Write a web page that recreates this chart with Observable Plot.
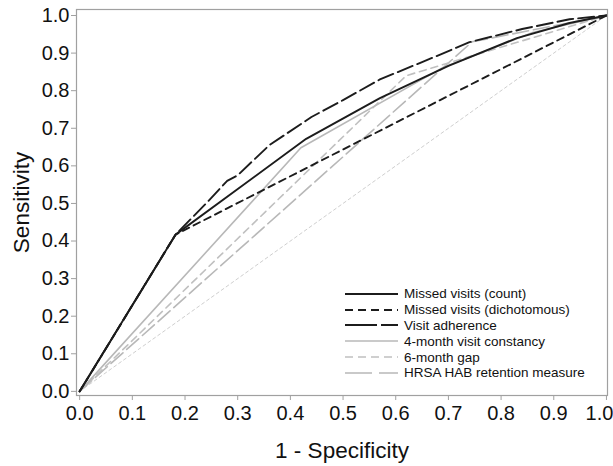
<!DOCTYPE html>
<html>
<head>
<meta charset="utf-8">
<script src="https://cdn.jsdelivr.net/npm/d3@7"></script>
<script src="https://cdn.jsdelivr.net/npm/@observablehq/plot@0.6"></script>
<style>
  html, body { margin: 0; padding: 0; background: #fff; }
  #wrap { position: relative; width: 613px; height: 466px; font-family: "Liberation Sans", Arial, sans-serif; }
  #legend { position: absolute; left: 345px; top: 286px; font-size: 13.5px; color: #111; }
  #legend .row { display: flex; align-items: center; height: 15.8px; }
  #legend svg { display: block; margin-right: 6px; }
</style>
</head>
<body>
<div id="wrap"></div>
<script>
// ---- data ----
const seriesNames = [
  "Missed visits (count)",
  "Missed visits (dichotomous)",
  "Visit adherence",
  "4-month visit constancy",
  "6-month gap",
  "HRSA HAB retention measure"
];
const fprCount = [0, 0.182, 0.43, 0.57, 0.70, 0.83, 0.93, 1];
const tprCount = [0, 0.417, 0.672, 0.78, 0.866, 0.94, 0.98, 1];
const fprDichot = [0, 0.182, 1];
const tprDichot = [0, 0.417, 1];
const fprAdherence = [0, 0.182, 0.24, 0.28, 0.30, 0.36, 0.44, 0.50, 0.57, 0.65, 0.74, 0.84, 0.93, 1];
const tprAdherence = [0, 0.417, 0.50, 0.56, 0.575, 0.655, 0.73, 0.775, 0.83, 0.876, 0.929, 0.964, 0.99, 1];
const fprConstancy = [0, 0.42, 0.69, 0.86, 1];
const tprConstancy = [0, 0.648, 0.862, 0.955, 1];
const fprGap = [0, 0.62, 1];
const tprGap = [0, 0.84, 1];
const fprHrsa = [0, 0.745, 1];
const tprHrsa = [0, 0.93, 1];
const fprRef = [0, 1];
const tprRef = [0, 1];
const tickValues = [0, 0.1, 0.2, 0.3, 0.4, 0.5, 0.6, 0.7, 0.8, 0.9, 1.0];

// ---- styles ----
const styles = [
  {stroke: "#1c1c1c", width: 1.9, dash: null, legendDash: null},
  {stroke: "#1c1c1c", width: 1.9, dash: "7,5", legendDash: "8,5"},
  {stroke: "#1c1c1c", width: 1.9, dash: "16,5", legendDash: "32,4"},
  {stroke: "#b8b8b8", width: 1.6, dash: null, legendDash: null},
  {stroke: "#c0c0c0", width: 1.6, dash: "7,5", legendDash: "8,5"},
  {stroke: "#b8b8b8", width: 1.6, dash: "16,5", legendDash: "27,7"}
];

const pairs = [
  [fprCount, tprCount], [fprDichot, tprDichot], [fprAdherence, tprAdherence],
  [fprConstancy, tprConstancy], [fprGap, tprGap], [fprHrsa, tprHrsa]
];
const toRows = (xs, ys) => xs.map((x, i) => ({x, y: ys[i]}));

const lineMarks = pairs.map(([xs, ys], i) => Plot.line(toRows(xs, ys), {
  x: "x", y: "y",
  stroke: styles[i].stroke,
  strokeWidth: styles[i].width,
  strokeDasharray: styles[i].dash ?? undefined,
  strokeLinejoin: "round"
}));

const font = "Liberation Sans, Arial, sans-serif";
const fmt = d3.format(".1f");
const lastTick = tickValues[tickValues.length - 1];
const chart = Plot.plot({
  width: 613,
  height: 466,
  marginLeft: 76,
  marginRight: 6,
  marginTop: 9,
  marginBottom: 71,
  style: {fontFamily: font, background: "#fff", color: "#111"},
  x: {domain: [-0.006, 1.002]},
  y: {domain: [-0.011, 1.016]},
  marks: [
    Plot.line(toRows(fprRef, tprRef), {x: "x", y: "y", stroke: "#cfcfcf", strokeWidth: 1, strokeDasharray: "3,3"}),
    ...lineMarks.slice(3).reverse(),
    ...lineMarks.slice(0, 3).reverse(),
    Plot.frame({stroke: "#a0a0a0", strokeWidth: 1.2}),
    Plot.axisX({ticks: tickValues, tickFormat: d => d === lastTick ? "" : fmt(d), tickSize: 5, tickPadding: 5,
      stroke: "#a0a0a0", fontSize: 20, fill: "#111", label: null}),
    Plot.axisX({ticks: [lastTick], tickFormat: fmt, tickSize: 0, tickPadding: 10,
      fontSize: 20, fill: "#111", label: null, dx: -7}),
    Plot.axisY({ticks: tickValues, tickFormat: fmt, tickSize: 5, tickPadding: 2,
      stroke: "#a0a0a0", fontSize: 20, fill: "#111", label: null}),
    Plot.text(["1 - Specificity"], {frameAnchor: "bottom", dy: 62, fontSize: 22.5, fill: "#111"}),
    Plot.text(["Sensitivity"], {frameAnchor: "left", dx: -55, rotate: -90, textAnchor: "middle", fontSize: 22.5, fill: "#111"})
  ]
});

const wrap = document.getElementById("wrap");
wrap.appendChild(chart);

// ---- legend ----
const legend = document.createElement("div");
legend.id = "legend";
seriesNames.forEach((name, i) => {
  const row = document.createElement("div");
  row.className = "row";
  const s = styles[i];
  row.innerHTML = `<svg width="53" height="6"><line x1="0" y1="3" x2="53" y2="3" stroke="${s.stroke}" stroke-width="${s.width}"${s.legendDash ? ` stroke-dasharray="${s.legendDash}"` : ""}/></svg><span>${name}</span>`;
  legend.appendChild(row);
});
wrap.appendChild(legend);
</script>
</body>
</html>
